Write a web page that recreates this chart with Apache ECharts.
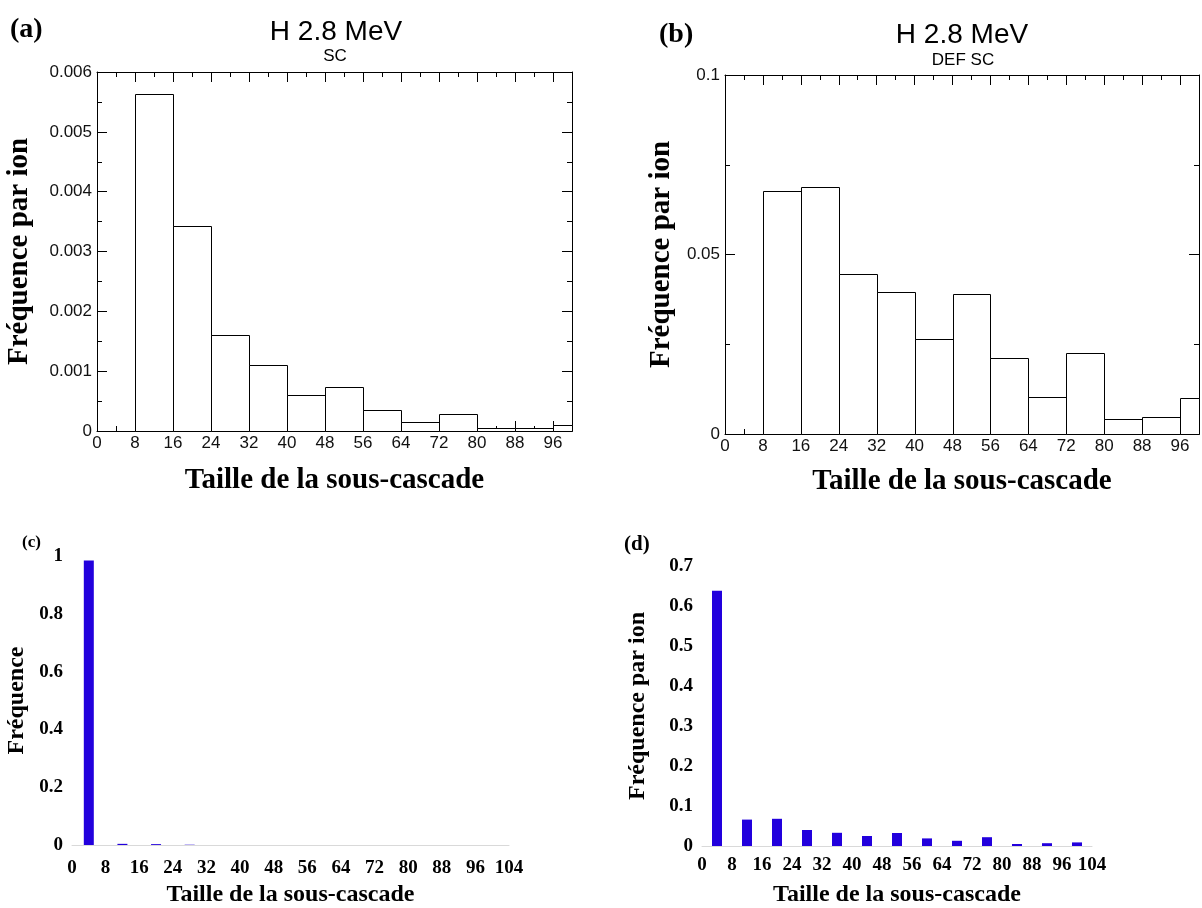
<!DOCTYPE html>
<html>
<head>
<meta charset="utf-8">
<script src="https://cdn.jsdelivr.net/npm/echarts@6/dist/echarts.min.js"></script>
<style>html,body{margin:0;padding:0;background:#fff}#chart{width:1202px;height:908px}</style>
</head>
<body>
<div id="chart"></div>
<script>
// ---- data ----
const histEdges = [8, 16, 24, 32, 40, 48, 56, 64, 72, 80, 88, 96, 100];
const freqSC = [0.00564, 0.00343, 0.0016, 0.0011, 0.0006, 0.00074, 0.00035, 0.00015, 0.00029, 0.00005, 0.00005, 0.0001];
const freqDEFSC = [0.0677, 0.0688, 0.0447, 0.0395, 0.0265, 0.0391, 0.0211, 0.0102, 0.0226, 0.0042, 0.0046, 0.0100];
const binStarts = [0, 8, 16, 24, 32, 40, 48, 56, 64, 72, 80, 88, 96];
const freqC = [0.984, 0.004, 0.003, 0.001, 0, 0, 0, 0, 0, 0, 0, 0, 0];
const freqD = [0.638, 0.066, 0.068, 0.040, 0.033, 0.025, 0.0325, 0.019, 0.013, 0.022, 0.005, 0.007, 0.009];
const binWidth = 8;

const serif = 'Liberation Serif';
const sans = 'Liberation Sans';

function histData(vals) {
  return vals.map((v, i) => [histEdges[i], histEdges[i + 1], v]);
}
function barData(vals) {
  return vals.map((v, i) => [binStarts[i] + binWidth / 2, v]);
}
function renderHist(params, api) {
  const p0 = api.coord([api.value(0), 0]);
  const p1 = api.coord([api.value(1), api.value(2)]);
  const x0 = Math.round(p0[0]) + 0.5, x1 = Math.round(p1[0]) + 0.5;
  const y0 = Math.round(p0[1]) + 0.5, y1 = Math.round(p1[1]) + 0.5;
  return {
    type: 'rect',
    shape: { x: x0, y: y1, width: x1 - x0, height: y0 - y1 },
    style: { fill: '#fff', stroke: '#000', lineWidth: 1 }
  };
}

function frameLine() { return { show: true, onZero: false, lineStyle: { color: '#000', width: 1 } }; }
function tickIn() { return { show: true, inside: true, length: 10, lineStyle: { color: '#000', width: 1 } }; }
function minorIn() { return { show: true, splitNumber: 2, length: 5, lineStyle: { color: '#000', width: 1 } }; }
function sansLabel() { return { fontFamily: sans, fontSize: 17, color: '#111' }; }

function histX(grid, pos, showLabel) {
  return {
    gridIndex: grid, type: 'value', position: pos, min: 0, max: 100, interval: 8,
    axisLine: frameLine(), axisTick: tickIn(), minorTick: minorIn(),
    splitLine: { show: false }, minorSplitLine: { show: false },
    axisLabel: showLabel ? Object.assign({ margin: 4, formatter: v => (v > 96 ? '' : String(v)) }, sansLabel()) : { show: false }
  };
}
function histY(grid, pos, max, interval, showLabel) {
  return {
    gridIndex: grid, type: 'value', position: pos, min: 0, max: max, interval: interval,
    axisLine: frameLine(), axisTick: tickIn(), minorTick: minorIn(),
    splitLine: { show: false }, minorSplitLine: { show: false },
    axisLabel: showLabel ? Object.assign({ margin: 5, formatter: v => (v === 0 ? '0' : String(+v.toFixed(4))) }, sansLabel()) : { show: false }
  };
}
function bigName() { return { fontFamily: serif, fontWeight: 'bold', fontSize: 29, color: '#000' }; }
function xlName() { return { fontFamily: serif, fontWeight: 'bold', fontSize: 24, color: '#000' }; }
function xlLabel() { return { fontFamily: serif, fontWeight: 'bold', fontSize: 19, color: '#000' }; }

const xA = histX(0, 'bottom', true);
xA.name = 'Taille de la sous-cascade'; xA.nameLocation = 'middle'; xA.nameGap = 35; xA.nameTextStyle = bigName();
const yA = histY(0, 'left', 0.006, 0.001, true);
yA.name = 'Fréquence par ion'; yA.nameLocation = 'middle'; yA.nameGap = 63; yA.nameTextStyle = bigName();
const xB = histX(1, 'bottom', true);
xB.name = 'Taille de la sous-cascade'; xB.nameLocation = 'middle'; xB.nameGap = 33; xB.nameTextStyle = bigName();
const yB = histY(1, 'left', 0.1, 0.05, true);
yB.name = 'Fréquence par ion'; yB.nameLocation = 'middle'; yB.nameGap = 49; yB.nameTextStyle = bigName();

function xlX(grid, gap, margin) {
  return {
    gridIndex: grid, type: 'value', min: 0, max: 104, interval: 8,
    axisLine: { show: true, onZero: false, lineStyle: { color: '#d9d9d9', width: 1 } },
    axisTick: { show: false }, splitLine: { show: false },
    axisLabel: Object.assign({ margin: margin }, xlLabel()),
    name: 'Taille de la sous-cascade', nameLocation: 'middle', nameGap: gap, nameTextStyle: xlName()
  };
}
function xlY(grid, max, interval, name, gap) {
  return {
    gridIndex: grid, type: 'value', min: 0, max: max, interval: interval,
    axisLine: { show: false }, axisTick: { show: false }, splitLine: { show: false },
    axisLabel: Object.assign({ margin: 9, formatter: v => (v === 0 ? '0' : String(+v.toFixed(2))) }, xlLabel()),
    name: name, nameLocation: 'middle', nameGap: gap, nameTextStyle: xlName()
  };
}

const option = {
  backgroundColor: '#fff',
  animation: false,
  title: [
    { text: '(a)', left: 10, top: 16, padding: 0, textStyle: { fontFamily: serif, fontWeight: 'bold', fontSize: 28, color: '#000' } },
    { text: 'H 2.8 MeV', left: 336, top: 18, padding: 0, textAlign: 'center', textStyle: { fontFamily: sans, fontWeight: 'normal', fontSize: 28, color: '#000' } },
    { text: 'SC', left: 335, top: 48, padding: 0, textAlign: 'center', textStyle: { fontFamily: sans, fontWeight: 'normal', fontSize: 17, color: '#000' } },
    { text: '(b)', left: 659, top: 21, padding: 0, textStyle: { fontFamily: serif, fontWeight: 'bold', fontSize: 28, color: '#000' } },
    { text: 'H 2.8 MeV', left: 962, top: 21, padding: 0, textAlign: 'center', textStyle: { fontFamily: sans, fontWeight: 'normal', fontSize: 28, color: '#000' } },
    { text: 'DEF SC', left: 963, top: 52, padding: 0, textAlign: 'center', textStyle: { fontFamily: sans, fontWeight: 'normal', fontSize: 17, color: '#000' } },
    { text: '(c)', left: 22, top: 534, padding: 0, textStyle: { fontFamily: serif, fontWeight: 'bold', fontSize: 17, color: '#000' } },
    { text: '(d)', left: 624, top: 534, padding: 0, textStyle: { fontFamily: serif, fontWeight: 'bold', fontSize: 21, color: '#000' } }
  ],
  grid: [
    { left: 97, top: 72, width: 475, height: 359 },
    { left: 725, top: 75, width: 475, height: 359 },
    { left: 72, top: 556, width: 437, height: 289 },
    { left: 702, top: 566, width: 390, height: 280 }
  ],
  xAxis: [xA, histX(0, 'top', false), xB, histX(1, 'top', false), xlX(2, 38, 14), xlX(3, 37, 10)],
  yAxis: [yA, histY(0, 'right', 0.006, 0.001, false), yB, histY(1, 'right', 0.1, 0.05, false),
          xlY(2, 1, 0.2, 'Fréquence', 43), xlY(3, 0.7, 0.1, 'Fréquence par ion', 52)],
  series: [
    { type: 'custom', xAxisIndex: 0, yAxisIndex: 0, renderItem: renderHist, encode: { x: [0, 1], y: 2 }, data: histData(freqSC), z: 1 },
    { type: 'custom', xAxisIndex: 2, yAxisIndex: 2, renderItem: renderHist, encode: { x: [0, 1], y: 2 }, data: histData(freqDEFSC), z: 1 },
    { type: 'bar', xAxisIndex: 4, yAxisIndex: 4, barWidth: 10, data: barData(freqC), itemStyle: { color: '#2200dd' } },
    { type: 'bar', xAxisIndex: 5, yAxisIndex: 5, barWidth: 10, data: barData(freqD), itemStyle: { color: '#2200dd' } }
  ]
};
const chart = echarts.init(document.getElementById('chart'), null, { renderer: 'canvas' });
chart.setOption(option);
</script>
</body>
</html>
